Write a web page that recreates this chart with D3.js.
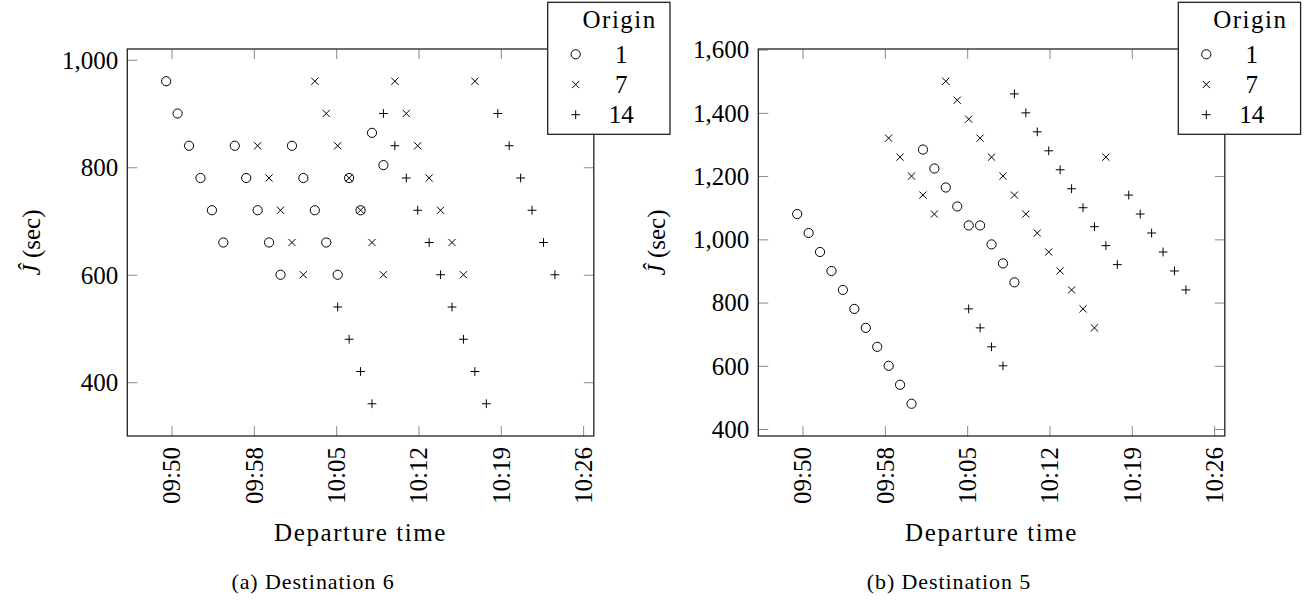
<!DOCTYPE html>
<html>
<head>
<meta charset="utf-8">
<script src="https://cdn.jsdelivr.net/npm/d3@7"></script>
</head>
<body style="margin:0; background:#fff">
<svg id="chart" width="1314" height="602" font-family="Liberation Serif"></svg>
<script>
// departure times for each origin (same in both panels)
const dep1 = ["09:50", "09:51", "09:52", "09:53", "09:54", "09:55", "09:56", "09:57", "09:58", "09:59",
              "10:00", "10:01", "10:02", "10:03", "10:04", "10:05", "10:06", "10:07", "10:08", "10:09"];
const dep7 = ["09:58", "09:59", "10:00", "10:01", "10:02", "10:03", "10:04", "10:05", "10:06", "10:07",
              "10:08", "10:09", "10:10", "10:11", "10:12", "10:13", "10:14", "10:15", "10:16", "10:17"];
const dep14 = ["10:05", "10:06", "10:07", "10:08", "10:09", "10:10", "10:11", "10:12", "10:13", "10:14",
               "10:15", "10:16", "10:17", "10:18", "10:19", "10:20", "10:21", "10:22", "10:23", "10:24"];

// (a) destination 6, J-hat in seconds
const dest6Origin1 = [960, 900, 840, 780, 720, 660, 840, 780, 720, 660, 600, 840, 780, 720, 660, 600, 780, 720, 864, 804];
const dest6Origin7 = [840, 780, 720, 660, 600, 960, 900, 840, 780, 720, 660, 600, 960, 900, 840, 780, 720, 660, 600, 960];
const dest6Origin14 = [540, 480, 420, 360, 900, 840, 780, 720, 660, 600, 540, 480, 420, 360, 900, 840, 780, 720, 660, 600];

// (b) destination 5
const dest5Origin1 = [1080, 1020, 960, 900, 840, 780, 720, 660, 600, 540, 480, 1284, 1224, 1164, 1104, 1044, 1044, 984, 924, 864];
const dest5Origin7 = [1320, 1260, 1200, 1140, 1080, 1500, 1440, 1380, 1320, 1260, 1200, 1140, 1080, 1020, 960, 900, 840, 780, 720, 1260];
const dest5Origin14 = [780, 720, 660, 600, 1460, 1400, 1340, 1280, 1220, 1160, 1100, 1040, 980, 920, 1140, 1080, 1020, 960, 900, 840];

const origins = ["1", "7", "14"];
const xTickValues = ["09:50:28", "09:57:40", "10:04:52", "10:12:04", "10:19:16", "10:26:28"];
const xTickLabels = ["09:50", "09:58", "10:05", "10:12", "10:19", "10:26"];
const yTicksA = [400, 600, 800, 1000];
const yTicksB = [400, 600, 800, 1000, 1200, 1400, 1600];

const parseHM = d3.timeParse("%H:%M");
const parseHMS = d3.timeParse("%H:%M:%S");

// marker shapes, size = radius / half width
const markCircle = { draw(ctx, r) { ctx.moveTo(r, 0); ctx.arc(0, 0, r, 0, 2 * Math.PI); } };
const markTimes = { draw(ctx, s) { ctx.moveTo(-s, -s); ctx.lineTo(s, s); ctx.moveTo(s, -s); ctx.lineTo(-s, s); } };
const markPlus = { draw(ctx, s) { ctx.moveTo(-s, 0); ctx.lineTo(s, 0); ctx.moveTo(0, -s); ctx.lineTo(0, s); } };
const markers = [d3.symbol(markCircle, 4.6), d3.symbol(markTimes, 3.6), d3.symbol(markPlus, 4.4)];

const FONT_STYLE = "font-family: 'Liberation Serif', serif !important";
const svg = d3.select("#chart");
const labels = svg.append("g").attr("class", "labels");

// all text goes straight under one group, serif forced inline
function addText(x, y, size, str) {
    return labels.append("text")
        .attr("x", x).attr("y", y)
        .attr("font-size", size)
        .attr("font-family", "Liberation Serif")
        .attr("style", FONT_STYLE)
        .attr("fill", "#000")
        .text(str);
}

function drawPanel(opts) {
    var left = opts.left, width = 466.5, top = 49, height = 387;
    var g = svg.insert("g", ".labels");

    var series = [
        { dep: dep1, vals: opts.data[0] },
        { dep: dep7, vals: opts.data[1] },
        { dep: dep14, vals: opts.data[2] }
    ].map(function(s, k) {
        return s.vals.map(function(v, i) { return { t: parseHM(s.dep[i]), v: v, k: k }; });
    });
    var all = series.flat();

    // pgfplots style: enlarge limits by 10% each side
    var tExt = d3.extent(all, d => d.t), vExt = d3.extent(all, d => d.v);
    var tPad = (tExt[1] - tExt[0]) * 0.1, vPad = (vExt[1] - vExt[0]) * 0.1;

    var x = d3.scaleTime()
        .domain([new Date(+tExt[0] - tPad), new Date(+tExt[1] + tPad)])
        .range([left, left + width]);
    var y = d3.scaleLinear()
        .domain([vExt[0] - vPad, vExt[1] + vPad])
        .range([top + height, top]);

    var xt = xTickValues.map(d => parseHMS(d));

    // tick marks only (inside, mirrored); labels are drawn separately
    g.append("g")
        .attr("transform", "translate(0," + (top + height) + ")")
        .call(d3.axisBottom(x).tickValues(xt).tickFormat("").tickSizeInner(-10).tickSizeOuter(0));
    g.append("g")
        .attr("transform", "translate(0," + top + ")")
        .call(d3.axisTop(x).tickValues(xt).tickFormat("").tickSizeInner(-10).tickSizeOuter(0));
    g.append("g")
        .attr("transform", "translate(" + left + ",0)")
        .call(d3.axisLeft(y).tickValues(opts.yTicks).tickFormat("").tickSizeInner(-10).tickSizeOuter(0));
    g.append("g")
        .attr("transform", "translate(" + (left + width) + ",0)")
        .call(d3.axisRight(y).tickValues(opts.yTicks).tickFormat("").tickSizeInner(-10).tickSizeOuter(0));

    g.selectAll(".domain").remove();
    g.selectAll(".tick text").remove();
    g.selectAll(".tick line").attr("stroke", "#8a8a8a").attr("stroke-width", 1);

    // tick labels
    xt.forEach(function(t, i) {
        addText(0, 0, 25, xTickLabels[i])
            .attr("transform", "translate(" + x(t) + "," + (top + height + 11) + ") rotate(-90)")
            .attr("dy", "0.35em")
            .attr("text-anchor", "end");
    });
    var fmt = d3.format(",");
    opts.yTicks.forEach(function(v) {
        addText(left - 9, y(v), 25, fmt(v))
            .attr("dy", "0.35em")
            .attr("text-anchor", "end");
    });

    // frame
    g.append("rect")
        .attr("x", left).attr("y", top)
        .attr("width", width).attr("height", height)
        .attr("fill", "none").attr("stroke", "#222").attr("stroke-width", 1.3);

    // points
    series.forEach(function(s, k) {
        g.append("g").selectAll("path")
            .data(s)
            .enter()
            .append("path")
            .attr("transform", d => "translate(" + x(d.t) + "," + y(d.v) + ")")
            .attr("d", markers[k])
            .attr("fill", "none")
            .attr("stroke", "#000")
            .attr("stroke-width", 1);
    });

    // axis labels
    var yl = addText(0, 0, 25, null)
        .attr("transform", "translate(" + opts.yLabelX + "," + (top + height / 2) + ") rotate(-90)")
        .attr("text-anchor", "middle")
        .attr("dy", "0.35em");
    yl.append("tspan").attr("font-style", "italic").text("Ĵ");
    yl.append("tspan").text(" (sec)");

    addText(left + width / 2, 541, 25, "Departure time")
        .attr("text-anchor", "middle")
        .attr("letter-spacing", 1.6);

    addText(opts.captionX, 589, 22, opts.caption)
        .attr("text-anchor", "middle")
        .attr("letter-spacing", 0.9);

    // legend
    var lx = opts.legendX, ly = 2.3;
    labels.append("rect")
        .attr("x", lx).attr("y", ly)
        .attr("width", 122.3).attr("height", 132)
        .attr("fill", "#fff").attr("stroke", "#222").attr("stroke-width", 1.3);
    addText(lx + 72, ly + 26, 25, "Origin")
        .attr("text-anchor", "middle")
        .attr("letter-spacing", 1.5);
    origins.forEach(function(o, k) {
        var yy = ly + 52 + k * 30.2;
        labels.append("path")
            .attr("transform", "translate(" + (lx + 28) + "," + yy + ")")
            .attr("d", markers[k])
            .attr("fill", "none").attr("stroke", "#000").attr("stroke-width", 1);
        addText(lx + 73.5, yy + 8.5, 25, o)
            .attr("text-anchor", "middle");
    });
}

drawPanel({
    left: 127.3, data: [dest6Origin1, dest6Origin7, dest6Origin14], yTicks: yTicksA,
    yLabelX: 31, legendX: 547.7, captionX: 313, caption: "(a) Destination 6"
});
drawPanel({
    left: 758.3, data: [dest5Origin1, dest5Origin7, dest5Origin14], yTicks: yTicksB,
    yLabelX: 656, legendX: 1178.3, captionX: 949, caption: "(b) Destination 5"
});
</script>
</body>
</html>
